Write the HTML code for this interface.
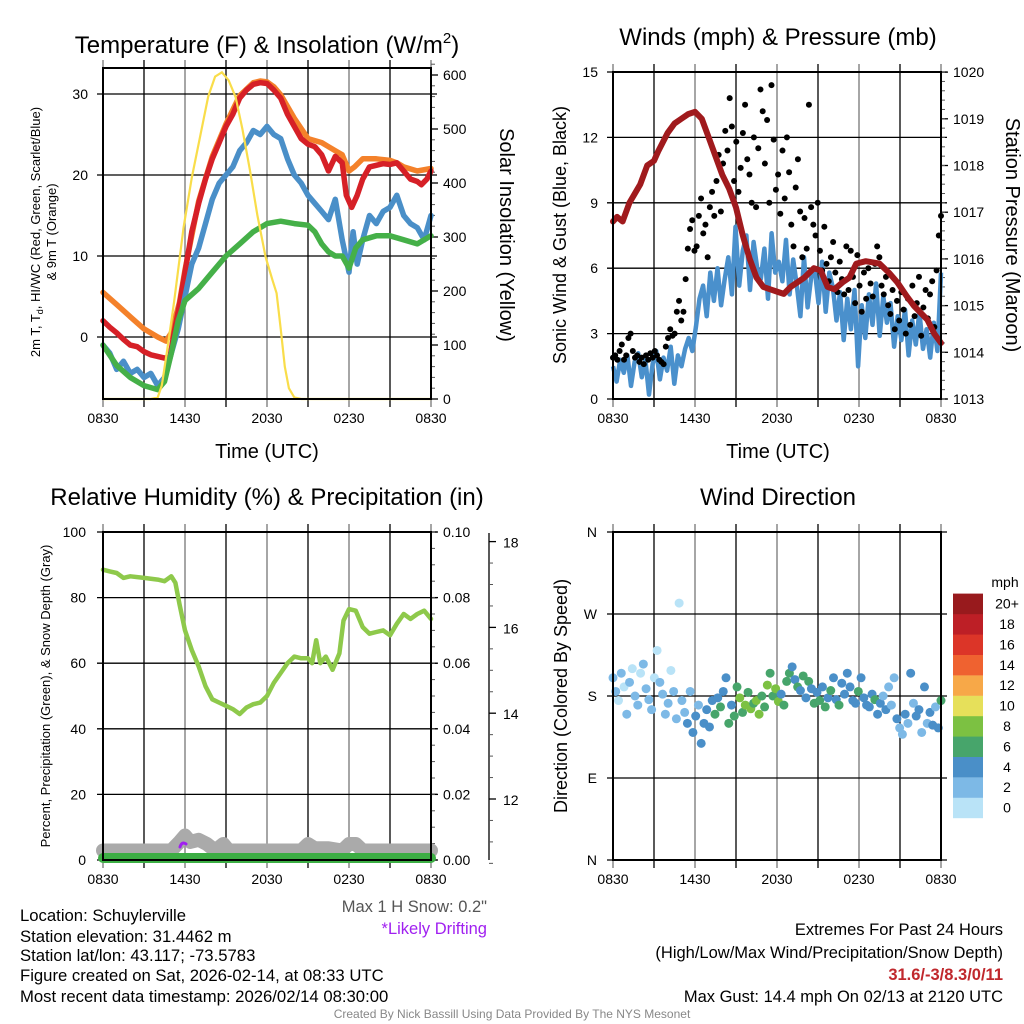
<!DOCTYPE html>
<html><head><meta charset="utf-8">
<style>
html,body{margin:0;padding:0;background:#fff;}
svg{display:block;font-family:"Liberation Sans",Arial,sans-serif;}
</style></head>
<body>
<svg id="c" width="1024" height="1024" viewBox="0 0 1024 1024" xmlns="http://www.w3.org/2000/svg">
<rect width="1024" height="1024" fill="#fff"/>
<text x="267" y="53" font-size="24" text-anchor="middle">Temperature (F) &amp; Insolation (W/m<tspan font-size="15" dy="-10">2</tspan><tspan dy="10">)</tspan></text>
<text x="778" y="45" font-size="24" text-anchor="middle">Winds (mph) &amp; Pressure (mb)</text>
<text x="267" y="505" font-size="24" text-anchor="middle">Relative Humidity (%) &amp; Precipitation (in)</text>
<text x="778" y="505" font-size="24" text-anchor="middle">Wind Direction</text>
<text x="267" y="458" font-size="20" text-anchor="middle">Time (UTC)</text>
<text x="778" y="458" font-size="20" text-anchor="middle">Time (UTC)</text>
<g font-size="13" text-anchor="middle">
<text transform="translate(40,232) rotate(-90)">2m T, T<tspan font-size="9" dy="3">d</tspan><tspan dy="-3">, HI/WC (Red, Green, Scarlet/Blue)</tspan></text>
<text transform="translate(56,232) rotate(-90)">&amp; 9m T (Orange)</text>
</g>
<text transform="translate(500,235) rotate(90)" font-size="20" text-anchor="middle">Solar Insolation (Yellow)</text>
<text transform="translate(566,235) rotate(-90)" font-size="18" text-anchor="middle">Sonic Wind &amp; Gust (Blue, Black)</text>
<text transform="translate(1006,235) rotate(90)" font-size="20" text-anchor="middle">Station Pressure (Maroon)</text>
<text transform="translate(50,696) rotate(-90)" font-size="13" text-anchor="middle">Percent, Precipitation (Green), &amp; Snow Depth (Gray)</text>
<text transform="translate(567,696) rotate(-90)" font-size="18" text-anchor="middle">Direction (Colored By Speed)</text>
<g font-size="16.7">
<text x="20" y="921">Location: Schuylerville</text>
<text x="20" y="942">Station elevation: 31.4462 m</text>
<text x="20" y="961">Station lat/lon: 43.117; -73.5783</text>
<text x="20" y="981">Figure created on Sat, 2026-02-14, at 08:33 UTC</text>
<text x="20" y="1002">Most recent data timestamp: 2026/02/14 08:30:00</text>
</g>
<text x="487" y="912" font-size="16.5" text-anchor="end" fill="#555">Max 1 H Snow: 0.2"</text>
<text x="487" y="934" font-size="16.5" text-anchor="end" fill="#a020f0">*Likely Drifting</text>
<g font-size="16.5" text-anchor="end">
<text x="1003" y="935">Extremes For Past 24 Hours</text>
<text x="1003" y="958">(High/Low/Max Wind/Precipitation/Snow Depth)</text>
<text x="1003" y="980" fill="#c0282d" font-weight="bold">31.6/-3/8.3/0/11</text>
<text x="1003" y="1002">Max Gust: 14.4 mph On 02/13 at 2120 UTC</text>
</g>
<text x="512" y="1018" font-size="12" text-anchor="middle" fill="#888">Created By Nick Bassill Using Data Provided By The NYS Mesonet</text>
<g id="layer"></g>
</svg>
<script>
const redH=[0,0.5,1,1.5,2,2.5,3,3.5,4,4.5,4.9,5.2,5.6,6,6.5,7,7.5,8,8.5,9,9.5,10,10.5,11,11.5,12,12.5,13,13.5,14,14.5,15,15.5,16,16.5,17,17.5,17.8,18.2,18.6,19,19.5,20,20.5,21,21.5,22,22.5,23,23.3,23.7,24];
const redT=[2,1.2,0.5,-0.3,-1,-1.2,-1.8,-2.2,-2.4,-2.6,-2.5,0.5,4,8,13,16.5,19.5,22,24,26,27.5,29.5,30.5,31.2,31.4,31.3,30.5,29.5,27.5,26,24.5,23.8,23.5,22.5,20.5,22.3,21.5,17.5,16,17.5,19.5,21,21.2,21.4,21.3,21.5,20.5,19.5,19.2,18.8,19.5,20.5];
const orangeH=[0,1,2,3,4,4.6,5,5.6,6,7,8,9,10,11,11.5,12,12.5,13,14,15,16,16.5,17,17.5,18,18.4,19,20,21,21.5,22,23,24];
const orangeT=[5.5,4,2.5,1,0,-0.5,0.5,4.3,8.3,16.8,22.3,26.3,29.8,31.4,31.6,31.5,30.9,29.9,27,24.5,24,23.5,23,22.5,20.5,21,22,22,21.8,21.5,21,20.5,20.8];
const blueH=[0,0.5,1,1.5,2,2.5,3,3.5,4,4.5,5,5.5,6,6.5,7,7.5,8,8.5,9,9.5,10,10.5,11,11.5,12,12.5,13,13.5,14,14.5,15,15.5,16,16.5,17,17.5,18,18.3,18.6,19,19.5,20,20.5,21,21.5,22,22.5,23,23.5,24];
const blueT=[-1,-2,-4,-3,-4.5,-4,-5,-4.5,-6,-5,-2,1,5,9,11,14,17,19,20,21,23,24,25.5,25,26,25,24.5,22,20,19,17.5,16.5,15.5,14.5,17,12,8,13,9,12,15,14,15.5,16,17.5,15,14,13.5,12,15];
const greenH=[0,1,2,3,4,4.5,5,5.5,6,7,8,9,10,11,12,13,14,15,15.5,16,16.5,17,17.5,18,18.5,19,20,21,22,23,24];
const greenT=[-1,-3.5,-5,-6,-6.5,-5.5,-2,2,4.5,6,8,10,11.5,13,14,14.3,14,13.8,13,11.5,10.5,10,10,8.5,11,12,12.5,12.5,12,11.5,12.5];
const solarH=[0,3.5,4,4.3,4.7,5.2,5.9,6.5,7.1,7.7,8.2,8.7,9.2,9.7,10.2,10.75,11.3,11.9,12.4,12.7,13,13.3,13.6,14,14.5,24];
const solarW=[0,0,3,25,91,180,318,410,485,560,597,605,590,559,500,424,340,263,220,196,130,60,20,3,0,0];
const presH=[0,0.3,0.7,1.2,2,2.5,3,3.3,4,4.5,5,5.5,6,6.5,7,7.5,8,8.5,9,9.5,10,10.5,11,11.5,12,12.5,13,14,14.7,15.2,15.7,16.2,16.8,17.3,17.8,18.5,19.5,20.2,20.8,21.5,22,22.5,23,23.5,24];
const presMb=[1016.8,1016.9,1016.8,1017.2,1017.6,1018.0,1018.1,1018.3,1018.7,1018.9,1019.0,1019.1,1019.15,1019.0,1018.6,1018.2,1017.8,1017.5,1017.1,1016.5,1016.0,1015.6,1015.4,1015.35,1015.3,1015.25,1015.4,1015.6,1015.8,1015.75,1015.4,1015.35,1015.5,1015.6,1015.9,1015.95,1015.9,1015.7,1015.5,1015.2,1015.0,1014.85,1014.7,1014.4,1014.2];
const windSpd=[1.5,0.8,1.8,1.2,2.0,0.6,1.7,2.1,1.0,1.8,0.2,1.6,2.2,0.9,1.9,1.3,2.4,0.7,2.0,1.5,2.3,
2.8,2.2,3.3,4.6,5.2,3.8,5.8,4.5,6.0,4.3,5.5,
6.5,4.8,7.9,5.2,6.8,7.5,5.0,7.2,6.0,5.5,6.9,4.6,7.6,5.8,6.3,
5.4,7.3,4.8,6.4,5.2,3.8,6.5,4.2,5.6,5.9,4.4,6.3,4.0,5.8,5.1,
3.6,4.9,2.7,4.6,3.2,5.0,1.5,4.3,2.8,4.8,3.4,5.3,2.9,4.7,3.5,
4.4,2.4,3.8,2.7,4.1,2.0,3.6,2.5,4.0,2.3,3.2,1.9,3.5,2.2,5.8];
const gustSpd=[1.9,2.0,1.8,2.2,2.5,1.8,2.0,2.8,3.0,2.2,1.9,2.0,1.7,1.9,1.6,2.0,1.8,2.1,1.9,2.2,2.0,1.8,1.7,1.6,2.4,2.8,3.2,2.9,3.0,4.0,
4.5,3.6,4.0,5.5,6.9,7.8,8.2,6.8,7.0,8.4,9.2,7.6,8.0,6.5,8.8,9.5,8.4,10.0,11.2,8.6,10.8,12.3,11.4,13.8,12.5,10.0,11.8,9.5,10.6,12.2,
13.5,11.0,10.3,9.0,12.0,8.8,11.5,14.2,13.2,10.8,12.8,9.0,14.4,11.9,9.6,10.3,8.5,11.4,9.2,12.0,10.4,8.0,7.0,9.7,11.0,8.6,6.5,8.3,6.9,13.5,
8.8,8.0,7.5,9.0,6.8,5.9,7.9,6.2,5.4,6.5,7.2,5.8,4.9,6.3,5.5,4.8,7.0,5.0,6.8,5.6,4.4,6.6,5.2,4.0,5.8,4.6,6.0,5.3,4.7,6.2,
7.0,6.5,5.2,4.8,5.6,4.3,3.9,5.0,3.2,4.5,3.6,4.9,4.1,3.0,4.6,3.4,5.2,3.8,4.4,5.6,2.9,4.2,5.0,3.7,4.8,5.4,3.3,5.9,7.5,8.4];
const rhH=[0,0.5,1,1.5,2,3,4,4.5,5,5.3,5.6,6,6.5,7,7.5,8,8.5,9,9.5,10,10.5,11,11.5,12,12.5,13,13.5,14,14.5,15,15.3,15.6,15.9,16.3,16.8,17.3,17.6,18,18.5,19,19.5,20,20.5,21,21.5,22,22.5,23,23.5,24];
const rhPct=[88.5,88,87.5,86,86.5,86,85.5,85,86.5,84.5,78,70,64,59,53,49,48,47,46,44.5,46.5,47.5,48,50,54,57,60,62,61.5,61.5,60,67,60,62,58,63,73,76.5,76,71,69,69.5,70,68.5,72,75,73.5,75,76,73.5];
const snowH=[0,5,5.6,6,6.4,7,7.6,8.2,8.8,9.2,10,14.5,15,15.5,16.5,17.5,18,18.5,19,20,24];
const snowIn=[10.8,10.8,11.0,11.15,11.0,11.05,10.95,10.8,10.95,10.8,10.8,10.8,10.95,10.85,10.85,10.8,10.95,10.95,10.8,10.8,10.8];
const precipIn=[0,0];
const dirDeg=[200,185,175,205,190,160,195,210,180,170,205,215,188,176,165,200,230,195,182,160,172,208,185,155,282,
175,162,150,185,140,158,170,128,150,165,146,175,160,178,168,185,200,150,170,158,
190,178,162,170,184,166,172,175,160,180,168,192,205,180,188,174,182,170,196,
205,212,198,190,186,202,178,196,188,172,184,175,190,168,178,186,200,176,170,
194,182,205,190,175,172,185,200,178,170,168,182,176,160,172,180,165,190,
170,200,155,145,138,160,150,205,172,158,165,140,190,150,162,148,168,145,175];
const dirSpd=[1,1,0,1,0,2,1,0,1,2,0,1,1,2,1,0,0,1,2,1,2,0,1,2,0,
2,2,3,2,3,3,2,3,4,4,3,4,5,3,6,4,4,5,3,6,
6,7,6,7,6,8,6,7,7,5,6,7,6,6,8,7,4,6,5,
5,4,4,5,4,6,4,5,4,6,4,5,4,6,4,5,4,4,6,
4,3,3,4,4,3,5,3,4,4,3,4,6,3,4,2,3,2,
2,2,3,2,2,3,2,3,2,3,4,2,3,2,3,4,2,3,5];
const cbLabels=["0","2","4","6","8","10","12","14","16","18","20+"];
const cbColors=["#b9e3f7","#7db9e6","#4a8fc8","#47a56b","#7cc142","#e6e05a","#f7a848","#ef6230","#dc3528","#bd1f26","#981a1d"];

const NS="http://www.w3.org/2000/svg";
const layer=document.getElementById('layer');
function el(tag,attrs,parent){const e=document.createElementNS(NS,tag);for(const k in attrs)e.setAttribute(k,attrs[k]);(parent||layer).appendChild(e);return e;}
function pts(xs,ys,fx,fy){return xs.map((h,i)=>fx(h).toFixed(1)+','+fy(ys[i]).toFixed(1)).join(' ');}
function idxH(arr){return arr.map((_,i)=>i*24/(arr.length-1));}

const panels=[{x0:103,y0:68,y1:399},{x0:613,y0:72,y1:399},{x0:103,y0:532,y1:860},{x0:613,y0:532,y1:860}];
const W=328;
const xTicks=["0830","1430","2030","0230","0830"];
function frame(p,name){
  const g=el('g',{});
  
  
  for(let k=0;k<=8;k++){const x=p.x0+k*W/8;
    const ln=el('line',{x1:x,x2:x,y1:p.y0-8,y2:p.y1+8,stroke:k%2?'#000':'#777','stroke-width':1.3},g);
    
    }
  xTicks.forEach((t,k)=>{const tx=el('text',{x:p.x0+k*W/4,y:p.y1+24,'font-size':14,'text-anchor':'middle'},g);tx.textContent=t;
    
    });
  return g;
}
function hgrid(g,p,y,lab,lx,anchor){el('line',{x1:p.x0-6,x2:p.x0+W+6,y1:y,y2:y,stroke:'#000','stroke-width':1.3},g);
  if(lab!==null){const t=el('text',{x:lx,y:y+5,'font-size':14,'text-anchor':anchor},g);t.textContent=lab;
    
    }}
function box(g,p){el('rect',{x:p.x0,y:p.y0,width:W,height:p.y1-p.y0,fill:'none',stroke:'#000','stroke-width':2},g);}
function rightAxis(g,p,vals,fy,fmt,minor){
  vals.forEach(v=>{const y=fy(v);el('line',{x1:p.x0+W,x2:p.x0+W+7,y1:y,y2:y,stroke:'#000','stroke-width':1.3},g);
    const t=el('text',{x:p.x0+W+12,y:y+5,'font-size':14},g);t.textContent=fmt(v);
    
    });
  minor.forEach(v=>{const y=fy(v);el('line',{x1:p.x0+W,x2:p.x0+W+4,y1:y,y2:y,stroke:'#555','stroke-width':1},g);});
}

{const p=panels[0];const g=frame(p,'temperature-chart');
 const fx=h=>p.x0+h*W/24, fT=v=>337-v*8.1, fS=v=>399-v*0.54;
 [0,10,20,30].forEach(v=>hgrid(g,p,fT(v),String(v),88,'end'));
 const mins=[];for(let v=0;v<=620;v+=20)if(v%100)mins.push(v);
 rightAxis(g,p,[0,100,200,300,400,500,600],fS,v=>String(v),mins);
 const series=[[orangeH,orangeT,'#f4812a','line-9m-temp'],[redH,redT,'#d62027','line-2m-temp'],[blueH,blueT,'#4a8fc8','line-heat-index-wind-chill'],[greenH,greenT,'#45b048','line-dewpoint']];
 series.forEach(s=>{const l=el('polyline',{points:pts(s[0],s[1],fx,fT),fill:'none',stroke:s[2],'stroke-width':5.5,'stroke-linejoin':'round','stroke-linecap':'round'},g);
   
   });
 const sl=el('polyline',{points:pts(solarH,solarW,fx,fS),fill:'none',stroke:'#f9dd4a','stroke-width':2.2},g);
 
 
 box(g,p);}

{const p=panels[1];const g=frame(p,'winds-chart');
 const fx=h=>p.x0+h*W/24, fW=v=>399-v*21.8, fP=v=>399-(v-1013)*46.7;
 [0,3,6,9,12,15].forEach(v=>hgrid(g,p,fW(v),String(v),598,'end'));
 const mins=[];for(let v=1013;v<=1020.01;v+=0.2)mins.push(+v.toFixed(1));
 rightAxis(g,p,[1013,1014,1015,1016,1017,1018,1019,1020],fP,v=>String(v),mins);
 const wl=el('polyline',{points:pts(idxH(windSpd),windSpd,fx,fW),fill:'none',stroke:'#4a90cc','stroke-width':4.5,'stroke-linejoin':'round'},g);
 
 
 const gh=idxH(gustSpd);
 gustSpd.forEach((v,i)=>{const c=el('circle',{cx:fx(gh[i]),cy:fW(v),r:3,fill:'#000'},g);
   
   });
 const pl=el('polyline',{points:pts(presH,presMb,fx,fP),fill:'none',stroke:'#a01a1d','stroke-width':6,'stroke-linejoin':'round','stroke-linecap':'round'},g);
 
 
 box(g,p);}

{const p=panels[2];const g=frame(p,'humidity-chart');
 const fx=h=>p.x0+h*W/24, fR=v=>860-v*3.28, fPr=v=>860-v*3280, fSn=v=>799-(v-12)*42.9;
 [0,20,40,60,80,100].forEach(v=>hgrid(g,p,fR(v),String(v),86,'end'));
 const mins=[];for(let v=0;v<=0.1001;v+=0.005)mins.push(v);
 rightAxis(g,p,[0,0.02,0.04,0.06,0.08,0.1],fPr,v=>v.toFixed(2),mins);
 el('line',{x1:489,x2:489,y1:533,y2:860,stroke:'#000','stroke-width':1.3},g);
 [12,14,16,18].forEach(v=>{const y=fSn(v);el('line',{x1:489,x2:496,y1:y,y2:y,stroke:'#000','stroke-width':1.3},g);
   const t=el('text',{x:503,y:y+6,'font-size':14},g);t.textContent=String(v);
   
   });
 for(let v=10.5;v<=18.01;v+=0.5){if(v%2){const y=fSn(v);el('line',{x1:489,x2:493,y1:y,y2:y,stroke:'#555','stroke-width':1},g);}}
 const sn=el('polyline',{points:pts(snowH,snowIn,fx,fSn),fill:'none',stroke:'#aaa','stroke-width':14,'stroke-linejoin':'round','stroke-linecap':'round'},g);
 
 
 const pr=el('polyline',{points:pts([0,24],precipIn,fx,v=>fPr(v)-2),fill:'none',stroke:'#3cae44','stroke-width':10,'stroke-linecap':'round'},g);
 
 
 const dr=el('path',{d:'M180,847 q2,-6 6,-3',fill:'none',stroke:'#a020f0','stroke-width':3,'stroke-linecap':'round'},g);
 
 
 const rl=el('polyline',{points:pts(rhH,rhPct,fx,fR),fill:'none',stroke:'#8ec94b','stroke-width':4.5,'stroke-linejoin':'round','stroke-linecap':'round'},g);
 
 
 box(g,p);}

{const p=panels[3];const g=frame(p,'wind-direction-chart');
 const fx=h=>p.x0+h*W/24, fD=v=>860-v*(328/360);
 [[0,'N'],[90,'E'],[180,'S'],[270,'W'],[360,'N']].forEach(d=>hgrid(g,p,fD(d[0]),d[1],597,'end'));
 const dh=idxH(dirDeg);
 dirDeg.forEach((v,i)=>{const ci=Math.min(10,Math.round(dirSpd[i]/2));
   const c=el('circle',{cx:fx(dh[i]),cy:fD(v),r:4.5,fill:cbColors[ci]},g);
   
   });
 box(g,p);
 const lg=el('g',{});
 
 
 const t=el('text',{x:1005,y:587,'font-size':14,'text-anchor':'middle'},lg);t.textContent='mph';
 cbLabels.forEach((lab,i)=>{const y=818-(i+1)*20.4;
   el('rect',{x:953,y:y,width:30,height:20.6,fill:cbColors[i]},lg);
   const tx=el('text',{x:1007,y:y+15,'font-size':14,'text-anchor':'middle'},lg);tx.textContent=lab;
   
   });}
</script>
</body></html>
